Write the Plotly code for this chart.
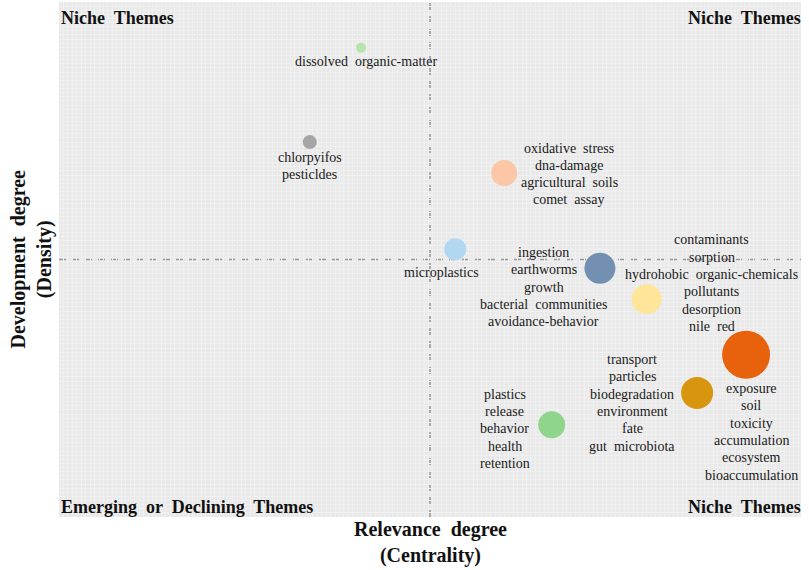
import plotly.graph_objects as go

# ---- data ----
themes = ["dissolved organic-matter", "chlorpyifos", "oxidative stress", "microplastics",
          "ingestion", "contaminants", "exposure", "transport", "plastics"]
centrality = [4.07, 3.38, 6.00, 5.34, 7.29, 7.92, 9.26, 8.60, 6.64]
density = [9.11, 7.28, 6.68, 5.20, 4.83, 4.23, 3.15, 2.41, 1.79]
bubble_size = [10, 14, 26, 22, 31, 30, 48, 32, 27]
labels = [
    ["dissolved  organic-matter"],
    ["chlorpyifos", "pesticldes"],
    ["oxidative  stress", "dna-damage", "agricultural  soils", "comet  assay"],
    ["microplastics"],
    ["ingestion", "earthworms", "growth", "bacterial  communities", "avoidance-behavior"],
    ["contaminants", "sorption", "hydrohobic  organic-chemicals", "pollutants", "desorption", "nile  red"],
    ["exposure", "soil", "toxicity", "accumulation", "ecosystem", "bioaccumulation"],
    ["transport", "particles", "biodegradation", "environment", "fate", "gut  microbiota"],
    ["plastics", "release", "behavior", "health", "retention"],
]
colors = ["#b8e4ab", "#a6a6a6", "#fcc7a6", "#b2d8f1", "#7390b3",
          "#fee59a", "#e8620e", "#d8950e", "#8fd58c"]
x_mid, y_mid = 5, 5
x_range = [0, 10]
y_range = [0, 10]
quadrants = ["Niche  Themes", "Niche  Themes", "Emerging  or  Declining  Themes", "Niche  Themes"]
x_title = "Relevance  degree<br>(Centrality)"
y_title = "Development  degree<br>(Density)"

# label block offsets in pixels (dx right, dy down) relative to bubble centers
label_dx = [5, 0, 65, -14, -56, 65, 5, -65, -47]
label_dy = [14, 24, 1, 23, 19, -16, 77, 10, 4]
LINE_H = 17.3

FONT = "'Liberation Serif', 'Times New Roman', serif"

fig = go.Figure()
fig.add_trace(go.Scatter(
    x=centrality, y=density, mode="markers",
    marker=dict(size=bubble_size, color=colors, line=dict(width=0), opacity=1),
    text=themes, hoverinfo="text", showlegend=False,
))

annotations = []
for xv, yv, lines, dx, dy in zip(centrality, density, labels, label_dx, label_dy):
    n = len(lines)
    for i, line in enumerate(lines):
        off = dy + (i - (n - 1) / 2) * LINE_H
        annotations.append(dict(
            x=xv, y=yv, xref="x", yref="y", text=line, showarrow=False,
            xshift=dx, yshift=-off, align="center", xanchor="center", yanchor="middle",
            font=dict(family=FONT, size=14, color="#1a1a1a"),
        ))

corner_font = dict(family=FONT, size=18, color="#111111")
annotations += [
    dict(x=0, y=1, xref="paper", yref="paper", text="<b>" + quadrants[0] + "</b>",
         showarrow=False, xanchor="left", yanchor="top", yshift=-4, xshift=0, font=corner_font),
    dict(x=1, y=1, xref="paper", yref="paper", text="<b>" + quadrants[1] + "</b>",
         showarrow=False, xanchor="right", yanchor="top", yshift=-4, xshift=2, font=corner_font),
    dict(x=0, y=0, xref="paper", yref="paper", text="<b>" + quadrants[2] + "</b>",
         showarrow=False, xanchor="left", yanchor="bottom", yshift=-2, xshift=0, font=corner_font),
    dict(x=1, y=0, xref="paper", yref="paper", text="<b>" + quadrants[3] + "</b>",
         showarrow=False, xanchor="right", yanchor="bottom", yshift=-2, xshift=2, font=corner_font),
]

title_font = dict(family=FONT, size=20, color="#111111")
annotations += [
    dict(x=0.5, y=0, xref="paper", yref="paper", text="<b>" + x_title + "</b>",
         showarrow=False, xanchor="center", yanchor="middle", yshift=-25, xshift=0,
         font=title_font, align="center"),
    dict(x=0, y=0.5, xref="paper", yref="paper", text="<b>" + y_title + "</b>",
         showarrow=False, xanchor="center", yanchor="middle", xshift=-28, textangle=-90,
         font=title_font, align="center"),
]

dash_line = dict(color="#9a9a9a", width=1.6, dash="7px,6px")
fig.add_shape(type="line", x0=x_range[0], x1=x_range[1], y0=y_mid, y1=y_mid,
              xref="x", yref="y", line=dash_line, layer="below")
fig.add_shape(type="line", x0=x_mid, x1=x_mid, y0=y_range[0], y1=y_range[1],
              xref="x", yref="y", line=dash_line, layer="below")

fig.update_layout(
    width=809, height=570,
    margin=dict(l=59, r=8, t=2, b=53, autoexpand=False),
    paper_bgcolor="white",
    plot_bgcolor="#e9e9e9",
    annotations=annotations,
    font=dict(family=FONT),
    xaxis=dict(range=x_range, showticklabels=False, ticks="", zeroline=False, automargin=False,
               showgrid=True, gridcolor="#f0f0f0", gridwidth=1, dtick=0.06),
    yaxis=dict(range=y_range, showticklabels=False, ticks="", zeroline=False, automargin=False,
               showgrid=True, gridcolor="#f0f0f0", gridwidth=1, dtick=0.08),
)

fig.write_html("out.html", config={"displayModeBar": False},
               post_script="document.body.style.margin='0';")
